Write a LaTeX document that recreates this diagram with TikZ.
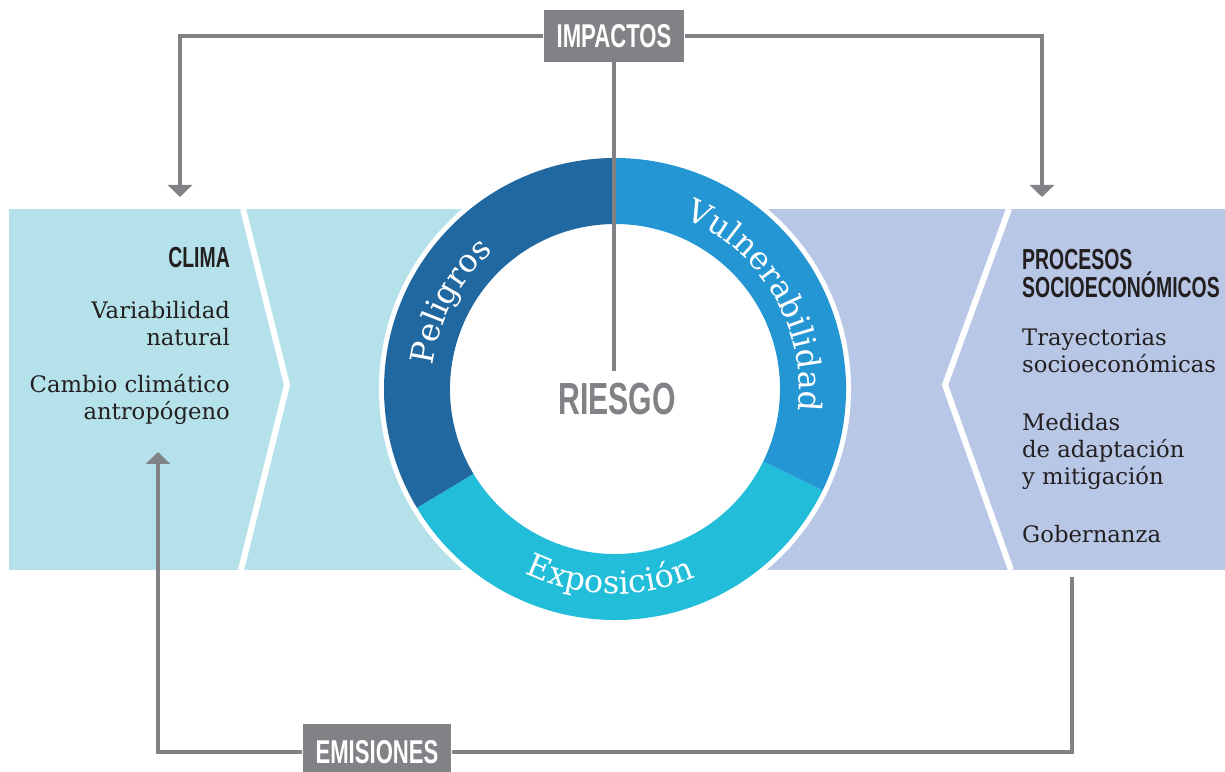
\documentclass[tikz,border=0pt]{standalone}
\usepackage{fontspec}
\setmainfont{DejaVu Serif}
\newfontfamily\condfont[FakeStretch=0.67]{Liberation Sans Bold}
\usetikzlibrary{arrows.meta,decorations.text}

\definecolor{gris}{HTML}{808285}
\definecolor{tinta}{HTML}{231F20}
\definecolor{climac}{HTML}{B5E2EA}
\definecolor{socioc}{HTML}{B8C7E6}
\definecolor{peligrosc}{HTML}{2268A0}
\definecolor{vulnerc}{HTML}{2396D3}
\definecolor{exposc}{HTML}{22BDD9}

\newcommand\anillofont{\fontsize{32}{32}\selectfont}

\begin{document}
\begin{tikzpicture}[x=1pt, y=1pt,
    etiqueta/.style ={fill=gris, text=white, inner xsep=13pt, inner ysep=0pt,
      minimum height=52pt, font=\condfont\fontsize{33}{33}\selectfont},
    titulo/.style ={text=tinta, inner sep=0pt, align=left,
      font=\condfont\fontsize{29}{28}\selectfont},
    texto/.style ={text=tinta, inner sep=0pt, font=\fontsize{22.7}{27}\selectfont},
    conector/.style ={draw=gris, line width=4.5pt},
    flecha/.style ={-{Triangle[width=24pt,length=12pt]}},
    chevron/.style ={draw=white, line width=6pt},
    anillo/.style ={decorate, decoration={text along path, text align=center,
      text color=white, text={|\anillofont|#1}}}]
  \useasboundingbox (0,0) rectangle (1225,771);

  % bands behind the ring
  \fill[climac] (9,201) rectangle (615,562);
  \fill[socioc] (615,201) rectangle (1225,562);
  \draw[chevron] (243,562) -- (287,386) -- (241,201);
  \draw[chevron] (1009,562) -- (945,386) -- (1011,201);

  % ring
  \begin{scope}[shift={(615,382)}]
    \fill[white] (0,0) circle (236);
    \foreach \a/\b/\c in {90/211/peligrosc, 211/334/exposc, 334/450/vulnerc}
      \fill[\c] (\a:231) arc[start angle=\a, end angle=\b, radius=231]
        -- (\b:165) arc[start angle=\b, end angle=\a, radius=165] -- cycle;
    \path[anillo=Peligros] (200:184) arc[start angle=200, end angle=104, radius=184];
    \path[anillo=Vulnerabilidad] (100:184) arc[start angle=100, end angle=-39, radius=184];
    \path[anillo=Exposición] (210:205) arc[start angle=210, end angle=327, radius=205];
  \end{scope}

  \node[titulo, anchor=base, text=gris, font=\condfont\fontsize{45}{45}\selectfont] (riesgo) at (617,356) {RIESGO};
  \node[etiqueta] (impactos) at (614,735) {IMPACTOS};
  \node[etiqueta, minimum height=56pt] (emisiones) at (377,19) {EMISIONES};

  \node[titulo, anchor=base east] (clima) at (230,503) {CLIMA};
  \node[texto, anchor=base east, align=right] (variabilidad) at (230,425) {Variabilidad\\natural};
  \node[texto, anchor=base east, align=right] (cambio) at (230,351) {Cambio climático\\antropógeno};

  \node[titulo, anchor=base west] (procesos) at (1022,473) {PROCESOS\\SOCIOECONÓMICOS};
  \node[texto, anchor=base west, align=left] (trayectorias) at (1022,398) {Trayectorias\\socioeconómicas};
  \node[texto, anchor=base west, align=left] (medidas) at (1022,286) {Medidas\\de adaptación\\y mitigación};
  \node[texto, anchor=base west] (gobernanza) at (1022,228) {Gobernanza};

  \coordinate (riesgoTop) at ([yshift=12pt]riesgo.north);
  \coordinate (climaIn) at (180,574);
  \coordinate (socioIn) at (1042,574);
  \coordinate (climaOut) at (158,319);
  \coordinate (socioOut) at (1072,194);

  \draw[conector, flecha] (impactos.west) -| (climaIn);
  \draw[conector, flecha] (impactos.east) -| (socioIn);
  \draw[conector] (impactos.south) -- (impactos.south |- riesgoTop);
  \draw[conector, flecha] (emisiones.west) -| (climaOut);
  \draw[conector] (socioOut) |- (emisiones.east);
\end{tikzpicture}
\end{document}
